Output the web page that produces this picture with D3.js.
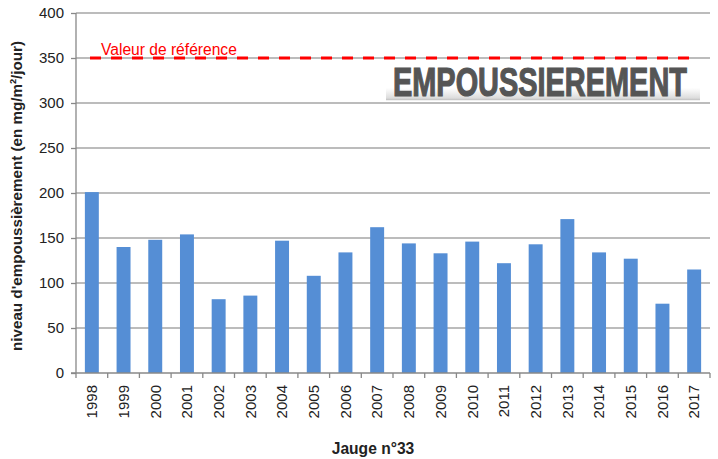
<!DOCTYPE html>
<html><head><meta charset="utf-8">
<script src="https://cdn.jsdelivr.net/npm/d3@7"></script>
<style>body{margin:0;background:#fff}svg{display:block}</style>
</head><body>
<script>
const years = ["1998","1999","2000","2001","2002","2003","2004","2005","2006","2007","2008","2009","2010","2011","2012","2013","2014","2015","2016","2017"];
const values = [201,140,148,154,82,86,147,108,134,162,144,133,146,122,143,171,134,127,77,115];
const yTicks = [0,50,100,150,200,250,300,350,400];
const refValue = 350;
const refLabel = "Valeur de référence";
const yTitle = "niveau d'empoussièrement (en mg/m²/jour)";
const xTitle = "Jauge n°33";
const banner = "EMPOUSSIEREMENT";

const W=718,H=459;
const m={left:76,right:8,top:13,bottom:86};
const svg=d3.select("body").append("svg").attr("width",W).attr("height",H);
const font="Liberation Sans, Arial, sans-serif";

const x=d3.scaleBand().domain(years).range([m.left,W-m.right]).paddingInner(0.56).paddingOuter(0.28);
const y=d3.scaleLinear().domain([0,400]).range([H-m.bottom,m.top]);

// gridlines
svg.append("g").selectAll("line").data(yTicks.filter(d=>d>0)).join("line")
  .attr("x1",m.left).attr("x2",W-m.right)
  .attr("y1",d=>y(d)).attr("y2",d=>y(d))
  .attr("stroke","#a6a6a6").attr("stroke-width",1.3);

// bars
svg.append("g").selectAll("rect").data(values).join("rect")
  .attr("x",(d,i)=>x(years[i])).attr("width",x.bandwidth())
  .attr("y",d=>y(d)).attr("height",d=>y(0)-y(d))
  .attr("fill","#558ed5");

// banner
const defs=svg.append("defs");
const g=defs.append("linearGradient").attr("id","bg").attr("x1",0).attr("x2",0).attr("y1",0).attr("y2",1);
g.append("stop").attr("offset","0").attr("stop-color","#fff");
g.append("stop").attr("offset","0.7").attr("stop-color","#fff");
g.append("stop").attr("offset","1").attr("stop-color","#d9d9d9");
svg.append("rect").attr("x",386).attr("y",62).attr("width",314).attr("height",37).attr("fill","url(#bg)");
svg.append("line").attr("x1",386).attr("x2",700).attr("y1",99.5).attr("y2",99.5).attr("stroke","#c8c8c8").attr("stroke-width",1.5);
const bt=svg.append("text").attr("x",0).attr("y",0)
  .attr("font-family",font)
  .attr("font-weight","bold").attr("font-size",40).attr("fill","#555")
  .attr("stroke","#555").attr("stroke-width",1.2)
  .text(banner);
const bw=bt.node().getComputedTextLength();
bt.attr("transform",`translate(393,96) scale(${294/bw},1)`);

// reference line
svg.append("line").attr("x1",90).attr("x2",693).attr("y1",y(refValue)).attr("y2",y(refValue))
  .attr("stroke","#ff0000").attr("stroke-width",3).attr("stroke-dasharray","11,10");
svg.append("text").attr("x",101).attr("y",y(refValue)-3)
  .attr("font-family",font).attr("font-size",15.6).attr("fill","#ff0000").text(refLabel);

// y axis
const ya=svg.append("g").attr("transform",`translate(${m.left},0)`)
  .call(d3.axisLeft(y).tickValues(yTicks).tickSize(5).tickPadding(7));
ya.select(".domain").attr("stroke","#888").attr("stroke-width",1.3).attr("d",`M-0,${y(400)}V${y(0)}`);
ya.selectAll(".tick line").attr("stroke","#888").attr("stroke-width",1.3);
ya.selectAll("text").attr("font-family",font).attr("font-size",15).attr("fill","#222");

// x axis
const xa=svg.append("g").attr("transform",`translate(0,${y(0)})`)
  .call(d3.axisBottom(x).tickSize(0).tickPadding(0));
xa.select(".domain").remove();
svg.append("line").attr("x1",m.left-5).attr("x2",W-m.right).attr("y1",y(0)).attr("y2",y(0)).attr("stroke","#888").attr("stroke-width",1.3);
const bounds=d3.range(years.length+1).map(i=>m.left+i*(W-m.right-m.left)/years.length);
svg.append("g").selectAll("line").data(bounds).join("line")
  .attr("x1",d=>d).attr("x2",d=>d).attr("y1",y(0)).attr("y2",y(0)+5)
  .attr("stroke","#888").attr("stroke-width",1.3);
xa.selectAll(".tick text")
  .attr("font-family",font).attr("font-size",15).attr("fill","#222")
  .attr("text-anchor","end").attr("dy","0.35em")
  .attr("transform","translate(0,12) rotate(-90)");

// titles
svg.append("text").attr("transform",`translate(22,${(y(0)+y(400))/2+3}) rotate(-90)`)
  .attr("text-anchor","middle").attr("font-family",font).attr("font-weight","bold")
  .attr("font-size",15.2).attr("fill","#222").text(yTitle);
svg.append("text").attr("x",373).attr("y",454).attr("text-anchor","middle")
  .attr("font-family",font).attr("font-weight","bold").attr("font-size",15.6).attr("fill","#222").text(xTitle);
</script>
</body></html>
